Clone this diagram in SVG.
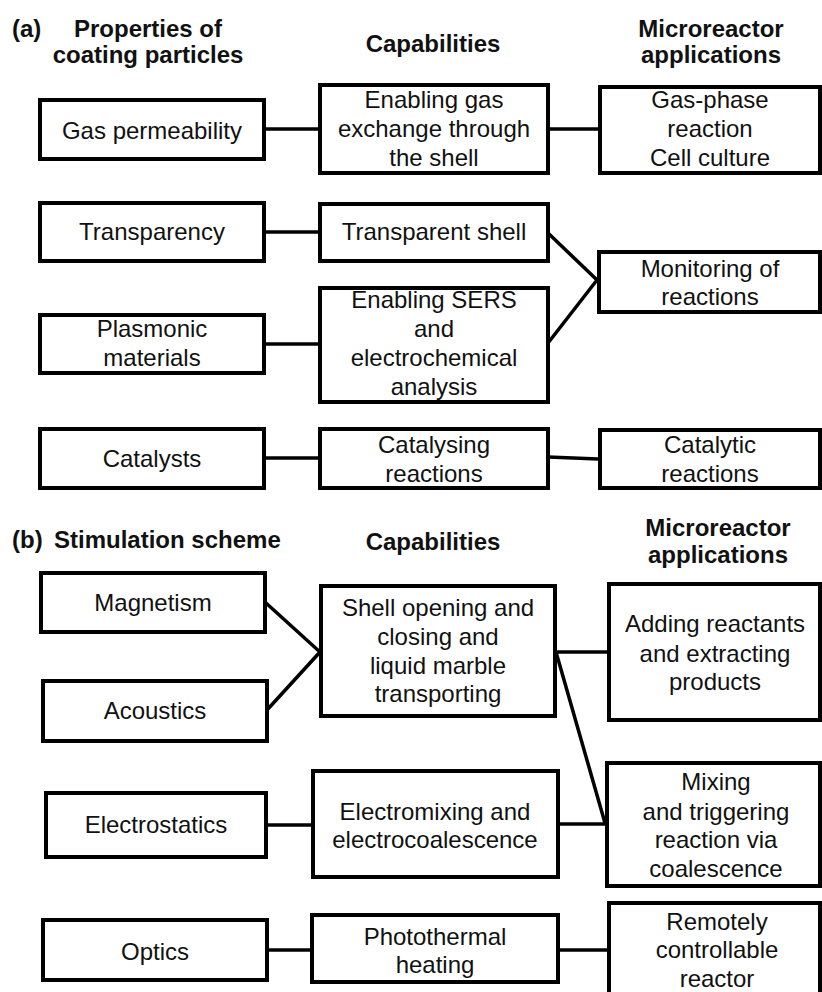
<svg xmlns="http://www.w3.org/2000/svg" width="822" height="992" viewBox="0 0 822 992">
<style>
.bx{fill:#fff;stroke:#000;stroke-width:4}
.ln{stroke:#000;stroke-width:3.5;fill:none}
text{font-family:"Liberation Sans",Arial,sans-serif;font-size:24px;fill:#111;text-anchor:middle}
.h{font-weight:bold;font-size:24px}
.l{text-anchor:start}
</style>
<rect width="822" height="992" fill="#fff"/>
<g id="headings">
<text class="h l" x="12" y="37">(a)</text>
<text class="h" x="148" y="37">Properties of</text>
<text class="h" x="148" y="63">coating particles</text>
<text class="h" x="433" y="52">Capabilities</text>
<text class="h" x="711" y="37">Microreactor</text>
<text class="h" x="711" y="63">applications</text>
<text class="h l" x="12" y="548">(b)</text>
<text class="h l" x="54" y="548">Stimulation scheme</text>
<text class="h" x="433" y="550">Capabilities</text>
<text class="h" x="718" y="536">Microreactor</text>
<text class="h" x="718" y="563">applications</text>
</g>
<g id="connectors">
<line class="ln" x1="264" y1="129" x2="318" y2="129"/>
<line class="ln" x1="549" y1="129" x2="598" y2="129"/>
<line class="ln" x1="264" y1="232" x2="318" y2="232"/>
<line class="ln" x1="264" y1="344" x2="318" y2="344"/>
<polyline class="ln" points="548,233 597,280 548,343"/>
<line class="ln" x1="264" y1="458" x2="318" y2="458"/>
<line class="ln" x1="548" y1="457" x2="598" y2="459"/>
<polyline class="ln" points="266,603 320,652 267,710"/>
<line class="ln" x1="556" y1="652" x2="608" y2="652"/>
<line class="ln" x1="556" y1="652" x2="605" y2="823"/>
<line class="ln" x1="266" y1="825" x2="312" y2="825"/>
<line class="ln" x1="559" y1="824" x2="606" y2="824"/>
<line class="ln" x1="267" y1="950" x2="311" y2="950"/>
<line class="ln" x1="559" y1="950" x2="608" y2="950"/>
</g>
<g id="gas-permeability"><rect class="bx" x="40" y="100" width="224" height="59"/><text x="152" y="139">Gas permeability</text></g>
<g id="gas-exchange"><rect class="bx" x="320" y="85" width="228" height="88"/><text x="434" y="108">Enabling gas</text><text x="434" y="137">exchange through</text><text x="434" y="166">the shell</text></g>
<g id="gas-phase"><rect class="bx" x="600" y="87" width="220" height="86"/><text x="710" y="108">Gas-phase</text><text x="710" y="137">reaction</text><text x="710" y="166">Cell culture</text></g>
<g id="transparency"><rect class="bx" x="40" y="203" width="224" height="58"/><text x="152" y="240">Transparency</text></g>
<g id="transparent-shell"><rect class="bx" x="320" y="204" width="228" height="57"/><text x="434" y="240">Transparent shell</text></g>
<g id="plasmonic"><rect class="bx" x="40" y="315" width="224" height="58"/><text x="152" y="337">Plasmonic</text><text x="152" y="366">materials</text></g>
<g id="sers"><rect class="bx" x="320" y="288" width="228" height="114"/><text x="434" y="308">Enabling SERS</text><text x="434" y="337">and</text><text x="434" y="366">electrochemical</text><text x="434" y="395">analysis</text></g>
<g id="monitoring"><rect class="bx" x="599" y="252" width="221" height="60"/><text x="710" y="277">Monitoring of</text><text x="710" y="305">reactions</text></g>
<g id="catalysts"><rect class="bx" x="40" y="429" width="224" height="59"/><text x="152" y="467">Catalysts</text></g>
<g id="catalysing"><rect class="bx" x="320" y="429" width="228" height="59"/><text x="434" y="453">Catalysing</text><text x="434" y="482">reactions</text></g>
<g id="catalytic"><rect class="bx" x="600" y="430" width="220" height="58"/><text x="710" y="453">Catalytic</text><text x="710" y="482">reactions</text></g>
<g id="magnetism"><rect class="bx" x="41" y="573" width="224" height="59"/><text x="153" y="611">Magnetism</text></g>
<g id="acoustics"><rect class="bx" x="43" y="681" width="224" height="60"/><text x="155" y="719">Acoustics</text></g>
<g id="shell-opening"><rect class="bx" x="321" y="586" width="234" height="130"/><text x="438" y="616">Shell opening and</text><text x="438" y="645">closing and</text><text x="438" y="674">liquid marble</text><text x="438" y="702">transporting</text></g>
<g id="adding"><rect class="bx" x="609" y="584" width="211" height="136"/><text x="715" y="632">Adding reactants</text><text x="715" y="662">and extracting</text><text x="715" y="690">products</text></g>
<g id="electrostatics"><rect class="bx" x="46" y="793" width="220" height="64"/><text x="156" y="833">Electrostatics</text></g>
<g id="electromixing"><rect class="bx" x="313" y="771" width="245" height="106"/><text x="435" y="820">Electromixing and</text><text x="435" y="848">electrocoalescence</text></g>
<g id="mixing"><rect class="bx" x="607" y="763" width="213" height="123"/><text x="716" y="790">Mixing</text><text x="716" y="820">and triggering</text><text x="716" y="848">reaction via</text><text x="716" y="877">coalescence</text></g>
<g id="optics"><rect class="bx" x="43" y="920" width="224" height="60"/><text x="155" y="960">Optics</text></g>
<g id="photothermal"><rect class="bx" x="312" y="915" width="246" height="67"/><text x="435" y="945">Photothermal</text><text x="435" y="973">heating</text></g>
<g id="remotely"><rect class="bx" x="609" y="903" width="211" height="100"/><text x="717" y="930">Remotely</text><text x="717" y="958">controllable</text><text x="717" y="987">reactor</text></g>
</svg>
